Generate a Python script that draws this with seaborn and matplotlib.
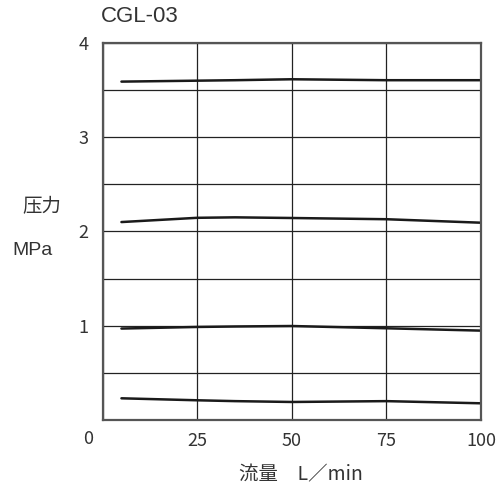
import pandas as pd
import seaborn as sns
import matplotlib.pyplot as plt

flow = [5, 25, 35, 50, 75, 100]
p_36 = [3.59, 3.60, 3.605, 3.615, 3.605, 3.605]
p_21 = [2.10, 2.145, 2.15, 2.143, 2.13, 2.093]
p_10 = [0.97, 0.987, 0.992, 0.997, 0.973, 0.948]
p_02 = [0.23, 0.209, 0.20, 0.191, 0.20, 0.177]

rows = []
for name, vals in [("3.6", p_36), ("2.1", p_21), ("1.0", p_10), ("0.2", p_02)]:
    for x, y in zip(flow, vals):
        rows.append({"flow": x, "pressure": y, "set": name})
df = pd.DataFrame(rows)

sns.set_style("white")
plt.rcParams['font.family'] = ['Noto Sans CJK JP', 'DejaVu Sans']

fig = plt.figure(figsize=(4.96, 4.90), dpi=100)
ax = fig.add_axes([0.2067, 0.1429, 0.7631, 0.7694])

sns.lineplot(data=df, x="flow", y="pressure", units="set", estimator=None,
             color="#1a1a1a", linewidth=1.8, ax=ax, legend=False)

ax.set_xlim(0, 100)
ax.set_ylim(0, 4)
ax.set_xticks([0, 25, 50, 75, 100])
ax.set_xticklabels(["", "25", "50", "75", "100"])
ax.set_yticks([0, 0.5, 1, 1.5, 2, 2.5, 3, 3.5, 4])
ax.set_yticklabels(["", "", "1", "", "2", "", "3", "", "4"])
ax.tick_params(length=0, labelsize=13, colors="#333333")
ax.tick_params(axis="x", pad=9)
ax.tick_params(axis="y", pad=10)
ax.grid(True, color="#222222", linewidth=0.9)
for s in ax.spines.values():
    s.set_color("#555555")
    s.set_linewidth(1.6)

ax.set_xlabel("")
ax.set_ylabel("")
txt = dict(color="#333333", ha="center", va="center")
fig.text(88 / 496, 1 - 439 / 490, "0", fontsize=13, **txt)
fig.text(140 / 496, 1 - 16 / 490, "CGL-03", fontsize=16, family="Liberation Sans", **txt)
fig.text(42 / 496, 1 - 207 / 490, "压力", fontsize=14, **txt)
fig.text(33 / 496, 1 - 250 / 490, "MPa", fontsize=14, family="Liberation Sans", **txt)
fig.text(301 / 496, 1 - 475 / 490, "流量　L／min", fontsize=14, **txt)

fig.savefig("out.png", dpi=100)
